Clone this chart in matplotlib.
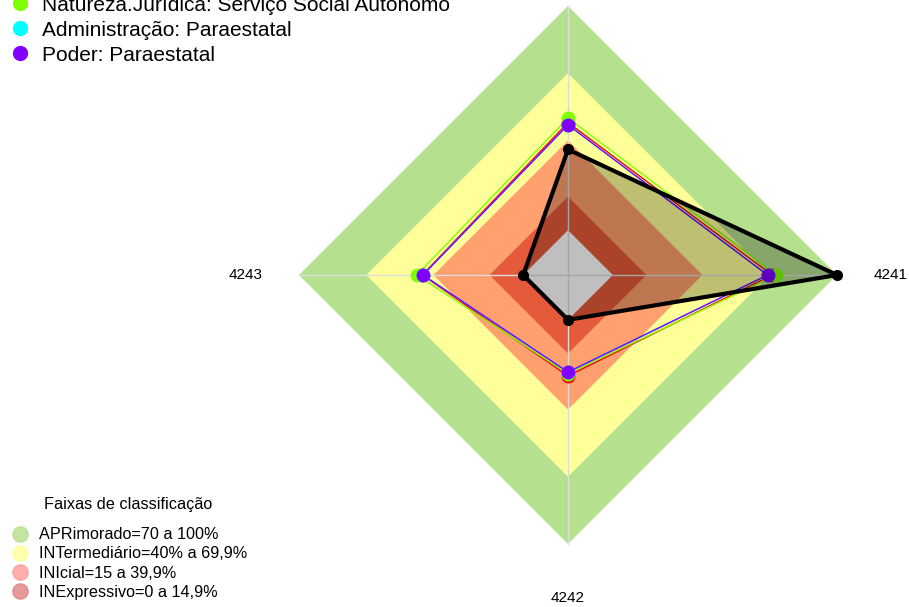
import numpy as np
import matplotlib.pyplot as plt
from matplotlib.lines import Line2D

# eixos do radar (primeiro no topo, sentido anti-horário)
categorias = ["4244", "4243", "4242", "4241"]

# series (valores entre 0 e 1)
serie_nomes = ["Segmento", "Natureza.Jurídica: Serviço Social Autônomo",
               "Administração: Paraestatal", "Poder: Paraestatal"]
serie_cores = ["#FF0000", "#80FF00", "#00FFFF", "#8000FF"]
serie_valores = [
    [0.48, 0.45, 0.25, 0.71],
    [0.50, 0.475, 0.24, 0.73],
    [0.47, 0.447, 0.233, 0.69],
    [0.47, 0.447, 0.233, 0.69],
]
orgao_valores = [0.36, 0.0, 0.0, 1.0]

# faixas de classificação
faixas_limites = [1.0, 0.70, 0.40, 0.15, 0.0]
faixas_cores = ["#B5E08E", "#FFFF99", "#FFA06E", "#E55A3A", "#FFFFFF"]
faixas_legenda = ["APRimorado=70 a 100%", "INTermediário=40% a 69,9%",
                  "INIcial=15 a 39,9%", "INExpressivo=0 a 14,9%"]
faixas_legenda_cores = ["#B5DF8B", "#FFFF99", "#FF9999", "#E08080"]

seg = 5
n = len(categorias)
ang = np.pi / 2 + 2 * np.pi * np.arange(n) / n


def raio(v):
    return 1.0 / (seg + 1) + np.asarray(v) * seg / (seg + 1)


def xy(v):
    r = raio(v)
    x = r * np.cos(ang)
    y = r * np.sin(ang)
    return np.append(x, x[0]), np.append(y, y[0])


fig = plt.figure(figsize=(9.09, 6.07), dpi=100)
ax = fig.add_axes([0, 0, 1, 1])
R = 269.0
ax.set_xlim(-568 / R, (909 - 568) / R)
ax.set_ylim(-(607 - 275) / R, 275 / R)
ax.axis("off")

for lim, cor in zip(faixas_limites, faixas_cores):
    x, y = xy([lim] * n)
    ax.fill(x, y, color=cor, lw=0, zorder=1)

# linhas dos eixos
for a in ang:
    ax.plot([0, np.cos(a)], [0, np.sin(a)], color="#DDDDDD", lw=1, zorder=2)

for vals, cor in zip(serie_valores, serie_cores):
    x, y = xy(vals)
    ax.plot(x, y, color=cor, lw=1, zorder=3)
    ax.plot(x[:-1], y[:-1], "o", color=cor, ms=9, zorder=4)

x, y = xy(orgao_valores)
ax.fill(x, y, color="black", alpha=0.25, lw=0, zorder=5)
ax.plot(x, y, color="black", lw=3, zorder=6)
ax.plot(x[:-1], y[:-1], "o", color="black", ms=7, zorder=7)

for a, nome in zip(ang, categorias):
    ax.text(1.2 * np.cos(a), 1.2 * np.sin(a), nome, ha="center", va="center",
            fontsize=11, family="Liberation Sans")

h1 = [Line2D([], [], ls="", marker="o", ms=10, color=c) for c in serie_cores[1:]]
leg1 = ax.legend(h1, serie_nomes[1:], loc="upper left",
                 bbox_to_anchor=(0.0015, 1.021), frameon=False,
                 prop={"family": "Liberation Sans", "size": 15},
                 handletextpad=0.56, labelspacing=0.29, handlelength=1.0,
                 borderaxespad=0)
ax.add_artist(leg1)

h2 = [Line2D([], [], ls="", marker="o", ms=11, color=c, alpha=0.8)
      for c in faixas_legenda_cores]
ax.legend(h2, faixas_legenda, loc="lower left", bbox_to_anchor=(0.004, 0.001),
          frameon=False,
          prop={"family": "Liberation Sans", "size": 11.7},
          handletextpad=0.6, labelspacing=0.26, handlelength=1.2,
          borderaxespad=0)
fig.text(128 / 909, 1 - 505 / 607, "Faixas de classificação", ha="center",
         va="center", fontsize=11.7, family="Liberation Sans")

fig.savefig("out.png", dpi=100)
